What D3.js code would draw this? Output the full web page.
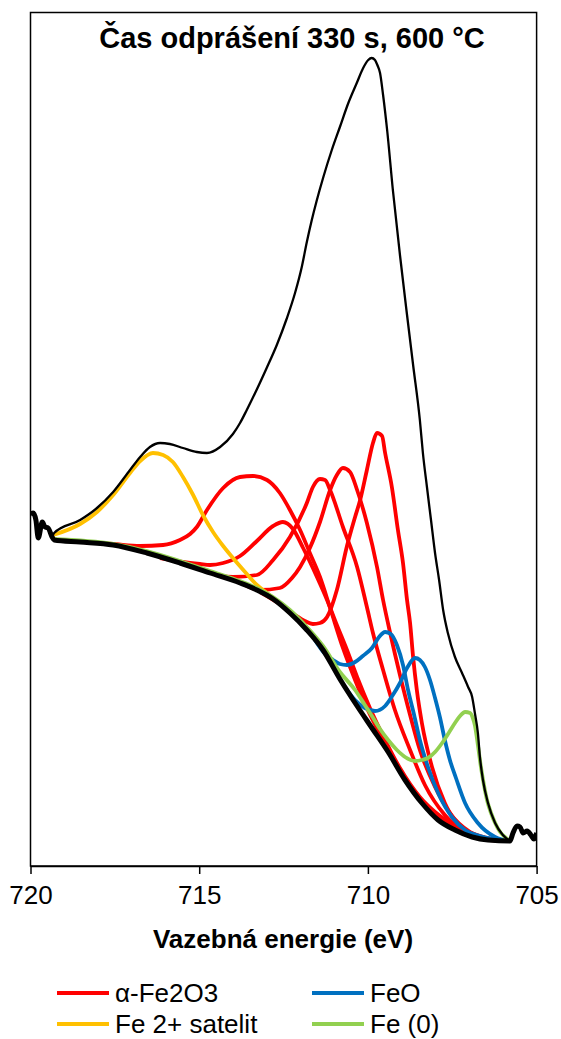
<!DOCTYPE html>
<html><head><meta charset="utf-8">
<script src="https://cdn.jsdelivr.net/npm/d3@7"></script>
<style>body{margin:0;background:#fff}svg{display:block}text{font-family:"Liberation Sans",Arial,sans-serif;fill:#000}</style>
</head><body>
<svg id="c" width="561" height="1039"></svg>
<script>
const title = "Čas odprášení 330 s, 600 °C";
const xLabel = "Vazebná energie (eV)";
const xTicks = [720, 715, 710, 705];
const legendLabels = ["α-Fe2O3", "FeO", "Fe 2+ satelit", "Fe (0)"];

// [binding energy eV, intensity a.u.]
const background = [[720.00,352],[719.92,353],[719.84,346],[719.77,328],[719.65,344],[719.57,339],[719.48,338],[719.36,329],
 [719.30,326],[718.53,324],[717.55,321],[716.55,313],[715.57,303],[714.68,293],[713.79,283],[713.29,276],[712.81,267],[712.31,253],
 [711.81,236],[711.33,216],[710.83,187],[710.32,160],[709.88,138],[709.40,114],[708.90,86],[708.40,63],[707.92,46],[707.42,36],
 [706.91,29],[706.44,26],[705.79,25],[705.70,33],[705.58,40],[705.49,39],[705.40,33],[705.28,35],[705.17,31],[705.08,27],[705.00,33]];
const envelope = [[719.36,329],[719.30,333],[718.53,346],[718.03,358],[717.55,374],[717.05,396],[716.75,409],[716.46,419],[716.16,423],
 [715.87,422],[715.48,418],[715.07,414],[714.77,413],[714.38,419],[714.00,432],[713.79,443],[713.59,456],[713.30,476],[713.00,498],
 [712.70,521],[712.41,547],[712.16,573],[711.96,599],[711.81,624],[711.67,645],[711.52,665],[711.32,689],[711.07,716],[710.83,739],
 [710.58,763],[710.33,783],[710.14,798],[709.99,806],[709.89,808],[709.79,806],[709.72,801],[709.64,793],[709.55,771],
 [709.43,736],[709.26,676],[709.05,611],[708.84,551],[708.66,501],[708.46,446],[708.37,413],[708.25,379],[708.13,346],[708.01,313],
 [707.89,286],[707.77,256],[707.63,233],[707.42,209],[707.21,193],[707.03,179],[706.91,169],[706.83,153],[706.74,133],[706.68,109],
 [706.59,86],[706.44,63],[706.23,43],[706.00,31],[705.79,25]];
const fe2Sat = [[719.33,331],[718.53,342],[718.03,354],[717.55,371],[717.05,393],[716.75,405],[716.37,413],[716.07,411],[715.78,404],
 [715.48,389],[715.18,371],[714.89,351],[714.59,334],[714.29,320],[714.00,308],[713.64,294],[713.29,281],[712.99,273],[712.61,262],[712.31,253]];
const fe2o3_1 = [[718.53,324],[717.55,322],[716.75,320],[716.07,321],[715.57,326],[715.27,332],[715.07,339],[714.77,356],[714.29,378],
 [713.79,389],[713.41,390],[712.99,386],[712.61,373],[712.31,356],[712.01,336],[711.72,313],[711.42,289],[711.12,258],[710.74,218],
 [710.38,186],[710.03,158],[709.55,126],[709.05,96],[708.46,66],[707.86,48],[707.27,36],[706.68,28],[705.79,25]];
const fe2o3_2 = [[716.16,308],[715.48,304],[714.98,302],[714.68,301],[714.29,303],[713.79,310],[713.29,325],[712.81,340],[712.52,344],
 [712.22,337],[711.92,318],[711.51,289],[711.21,266],[710.92,241],[710.62,216],[710.32,189],[709.94,158],[709.49,126],[709.05,98],
 [708.46,69],[707.86,50],[707.27,38],[706.68,30],[705.79,25]];
const fe2o3_3 = [[714.98,297],[714.00,289],[713.29,291],[712.81,306],[712.31,329],[711.81,363],[711.63,379],[711.42,387],[711.27,386],
 [711.12,376],[710.74,339],[710.32,299],[710.03,259],[709.85,233],[709.55,196],[709.20,156],[708.75,116],[708.31,81],[707.72,51],
 [707.12,34],[706.38,26],[705.79,25]];
const fe2o3_4 = [[713.64,281],[713.20,276],[712.61,278],[712.25,288],[712.01,299],[711.72,318],[711.42,344],[711.12,376],[710.92,391],
 [710.74,398],[710.53,394],[710.32,376],[710.03,343],[709.73,299],[709.55,266],[709.34,233],[709.05,191],[708.75,151],[708.46,116],
 [708.01,79],[707.57,53],[706.97,34],[706.38,27],[705.79,25]];
const fe2o3_5 = [[713.20,274],[712.61,262],[712.16,251],[711.87,245],[711.63,242],[711.42,243],[711.21,249],[710.92,276],[710.62,320],
 [710.38,349],[710.23,366],[710.03,396],[709.85,423],[709.73,433],[709.58,430],[709.49,413],[709.29,379],[709.11,336],[708.96,303],
 [708.84,266],[708.75,243],[708.66,209],[708.55,176],[708.40,143],[708.10,99],[707.72,63],[707.12,36],[706.68,29],[705.79,25]];
const feo_1 = [[711.57,226],[711.27,212],[711.03,206],[710.83,202],[710.62,201],[710.38,204],[710.15,210],[709.88,218],[709.67,229],
 [709.49,234],[709.32,232],[709.14,221],[708.96,201],[708.81,176],[708.63,151],[708.46,126],[708.22,99],[707.92,73],[707.51,49],
 [707.12,36],[706.68,30],[705.79,25]];
const feo_2 = [[710.68,179],[710.38,166],[710.09,158],[709.79,155],[709.49,160],[709.26,171],[709.05,183],[708.84,198],[708.60,208],
 [708.46,206],[708.31,199],[708.16,186],[708.01,168],[707.86,148],[707.72,126],[707.57,106],[707.39,88],[707.12,63],[706.74,43],
 [706.23,29],[705.79,25]];
const fe0 = [[719.33,327],[717.55,322],[716.55,315],[715.57,305],[714.68,295],[713.79,285],[713.29,278],[712.81,269],[712.31,256],
 [711.81,239],[711.33,220],[710.83,194],[710.38,176],[710.09,161],[709.88,150],[709.64,137],[709.40,126],[709.14,116],[708.90,109],
 [708.60,105],[708.40,106],[708.22,108],[708.01,114],[707.80,123],[707.57,135],[707.42,143],[707.27,150],[707.12,154],[706.97,153],
 [706.89,148],[706.83,141],[706.74,121],[706.65,99],[706.56,81],[706.47,66],[706.35,53],[706.23,43],[706.08,34],[705.94,29],[705.79,25]];

const RED = "#FF0000", BLUE = "#0070C0", YEL = "#FFC000", GRN = "#92D050";
const legendColors = [RED, BLUE, YEL, GRN];

const svg = d3.select("#c");
const X0 = 30.5, X1 = 536.6, Y0 = 12.5, Y1 = 866;
const x = d3.scaleLinear().domain([720, 705]).range([X0, X1]);
const y = d3.scaleLinear().domain([0, 853.5]).range([Y1, Y0]);

svg.append("defs").append("clipPath").attr("id", "clip")
  .append("rect").attr("x", X0).attr("y", Y0).attr("width", X1 - X0).attr("height", Y1 - Y0);

const line = d3.line().x(d => x(d[0])).y(d => y(d[1])).curve(d3.curveMonotoneX);
const g = svg.append("g").attr("clip-path", "url(#clip)");
const series = [
  [fe2o3_1, RED, 3.8], [fe2o3_2, RED, 3.8], [fe2o3_3, RED, 3.8], [fe2o3_4, RED, 3.8], [fe2o3_5, RED, 3.8],
  [feo_1, BLUE, 3.8], [feo_2, BLUE, 3.8], [fe2Sat, YEL, 3.8], [fe0, GRN, 3.8],
  [background, "#000", 5], [envelope, "#000", 2.3]
];
series.forEach(([d, c, w]) => g.append("path").datum(d).attr("d", line)
  .attr("fill", "none").attr("stroke", c).attr("stroke-width", w).attr("stroke-linejoin", "round"));

// frame
svg.append("rect").attr("x", X0).attr("y", Y0).attr("width", X1 - X0).attr("height", Y1 - Y0)
  .attr("fill", "none").attr("stroke", "#000").attr("stroke-width", 1.5);

// x axis
const ax = svg.append("g").attr("transform", `translate(0,${Y1})`)
  .call(d3.axisBottom(x).tickValues(xTicks).tickSize(8).tickSizeOuter(0).tickPadding(12).tickFormat(d3.format("d")));
ax.select(".domain").attr("stroke", "#000").attr("stroke-width", 1.5);
ax.selectAll(".tick line").attr("stroke", "#000").attr("stroke-width", 1.5);
ax.selectAll(".tick text").style("font-size", "26px").style("font-family", "'Liberation Sans',Arial,sans-serif").attr("fill", "#000");

svg.append("text").attr("x", 292).attr("y", 48).attr("text-anchor", "middle")
  .style("font-size", "29px").style("font-weight", "bold").text(title);
svg.append("text").attr("x", 283).attr("y", 948).attr("text-anchor", "middle")
  .style("font-size", "26px").style("font-weight", "bold").text(xLabel);

// legend
const lg = svg.append("g");
legendLabels.forEach((lab, i) => {
  const col = i % 2, row = Math.floor(i / 2);
  const lx = col === 0 ? 57 : 312, ly = row === 0 ? 993 : 1024;
  lg.append("line").attr("x1", lx).attr("x2", lx + 52).attr("y1", ly).attr("y2", ly)
    .attr("stroke", legendColors[i]).attr("stroke-width", 3.8);
  lg.append("text").attr("x", lx + 58).attr("y", ly + 9).style("font-size", "26px").text(lab);
});
</script>
</body></html>
